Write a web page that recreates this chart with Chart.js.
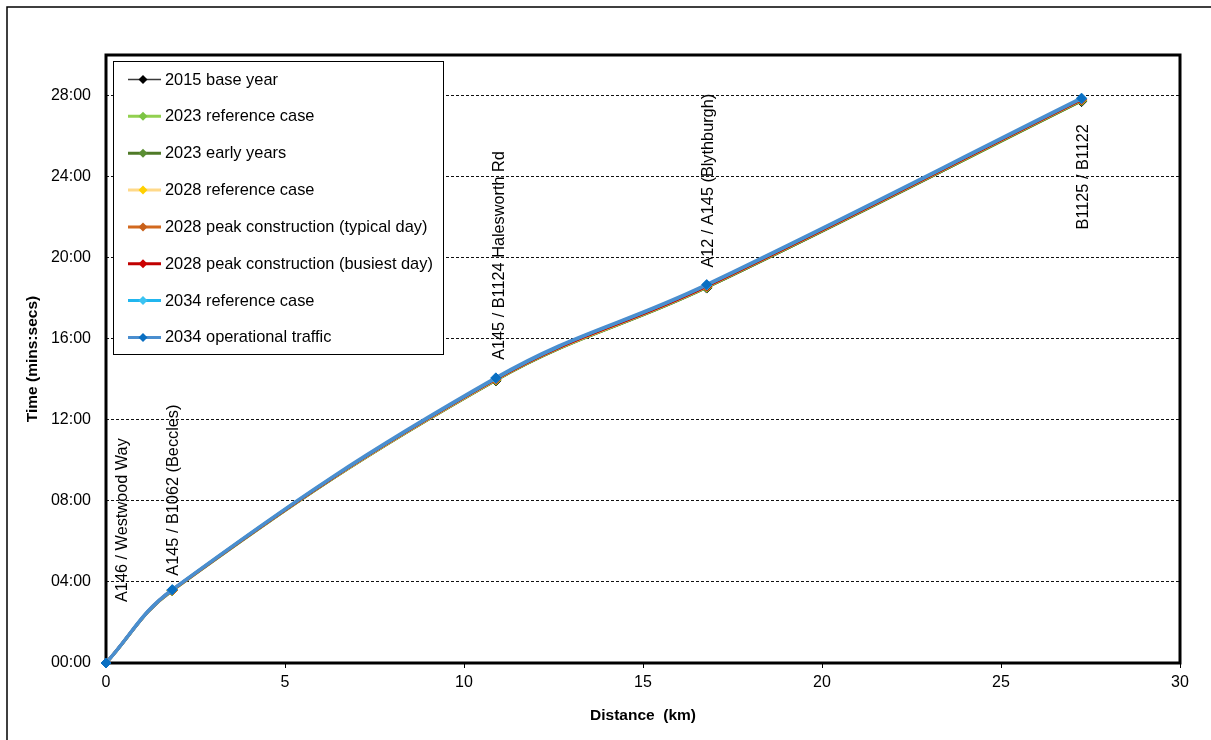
<!DOCTYPE html>
<html>
<head>
<meta charset="utf-8">
<script src="https://cdn.jsdelivr.net/npm/chart.js@4.4.1/dist/chart.umd.min.js"></script>
<style>
html,body{margin:0;padding:0;background:#fff;}
canvas{display:block;}
</style>
</head>
<body>
<canvas id="c" width="1211" height="740"></canvas>
<script>
// ---- data ----
const distanceKm = [0, 1.85, 10.89, 16.78, 27.25];
const junctionLabels = ["A146 / Westwood Way", "A145 / B1062 (Beccles)", "A145 / B1124 Halesworth Rd", "A12 / A145 (Blythburgh)", "B1125 / B1122"];
const seriesNames = ["2015 base year", "2023 reference case", "2023 early years", "2028 reference case",
  "2028 peak construction (typical day)", "2028 peak construction (busiest day)", "2034 reference case", "2034 operational traffic"];
// journey time in minutes
const base2015      = [0, 3.57, 13.92, 18.50, 27.70];
const ref2023       = [0, 3.58, 13.95, 18.53, 27.74];
const early2023     = [0, 3.58, 13.96, 18.54, 27.75];
const ref2028       = [0, 3.59, 13.98, 18.57, 27.78];
const peakTyp2028   = [0, 3.60, 14.00, 18.59, 27.80];
const peakBusy2028  = [0, 3.60, 14.01, 18.60, 27.81];
const ref2034       = [0, 3.61, 14.04, 18.64, 27.84];
const oper2034      = [0, 3.62, 14.07, 18.67, 27.87];
const seriesValues = [base2015, ref2023, early2023, ref2028, peakTyp2028, peakBusy2028, ref2034, oper2034];

// ---- styles ----
const lineColors   = ['#3a3a3a', '#92D050', '#4F7A28', '#FFD98A', '#D2691E', '#C00000', '#21B6EF', '#4A8ECF'];
const markerColors = ['#000000', '#7CC444', '#5B8E33', '#FFD000', '#C8601A', '#CC0000', '#3BC3F2', '#0A6FC2'];
const lineWidths   = [1.5, 3, 3, 3, 3, 3, 3, 3.5];
// label placement: dx from point, gap above (positive) or below (negative)
const labelPlacement = [
  {dx: 17, gap: 61}, {dx: 1, gap: 14}, {dx: 4, gap: 18}, {dx: 1.5, gap: 17}, {dx: 1.5, gap: -26}
];
const FONT = "'Liberation Sans', Arial, sans-serif";

function fmtTime(v) {
  const m = Math.floor(v + 1e-9);
  const s = Math.round((v - m) * 60);
  return String(m).padStart(2, '0') + ':' + String(s).padStart(2, '0');
}

const framePlugin = {
  id: 'frames',
  beforeDraw(chart) {
    const ctx = chart.ctx;
    ctx.save();
    ctx.strokeStyle = '#000';
    ctx.lineWidth = 1.5;
    ctx.beginPath();
    ctx.moveTo(7, chart.height);
    ctx.lineTo(7, 7);
    ctx.lineTo(chart.width, 7);
    ctx.stroke();
    ctx.restore();
  },
  beforeDatasetsDraw(chart) {
    const ctx = chart.ctx;
    const a = chart.chartArea;
    ctx.save();
    ctx.strokeStyle = '#000';
    ctx.lineWidth = 3;
    ctx.strokeRect(a.left, a.top, a.right - a.left, a.bottom - a.top);
    ctx.restore();
  },
  afterDatasetsDraw(chart) {
    const ctx = chart.ctx;
    const xs = chart.scales.x, ys = chart.scales.y;
    // junction labels
    ctx.save();
    ctx.fillStyle = '#000';
    ctx.font = '16.3px ' + FONT;
    ctx.textBaseline = 'middle';
    junctionLabels.forEach((t, i) => {
      const px = xs.getPixelForValue(distanceKm[i]);
      const py = ys.getPixelForValue(oper2034[i]);
      const p = labelPlacement[i];
      ctx.save();
      ctx.translate(px + p.dx, py - p.gap);
      ctx.textAlign = p.gap >= 0 ? 'left' : 'right';
      ctx.rotate(-Math.PI / 2);
      ctx.fillText(t, 0, 0);
      ctx.restore();
    });
    ctx.restore();

    // legend
    const a = chart.chartArea;
    const bx = a.left + 7, by = a.top + 6, bw = 330, bh = 293;
    ctx.save();
    ctx.fillStyle = '#fff';
    ctx.fillRect(bx, by, bw, bh);
    ctx.strokeStyle = '#000';
    ctx.lineWidth = 1;
    ctx.strokeRect(bx + 0.5, by + 0.5, bw, bh);
    ctx.font = '16.4px ' + FONT;
    ctx.textBaseline = 'middle';
    ctx.textAlign = 'left';
    seriesNames.forEach((name, i) => {
      const cy = by + 18.5 + i * 36.85;
      ctx.strokeStyle = lineColors[i];
      ctx.lineWidth = lineWidths[i] === 3.5 ? 3 : lineWidths[i];
      ctx.beginPath();
      ctx.moveTo(bx + 15, cy);
      ctx.lineTo(bx + 48, cy);
      ctx.stroke();
      ctx.fillStyle = markerColors[i];
      ctx.beginPath();
      ctx.moveTo(bx + 30, cy - 4.5);
      ctx.lineTo(bx + 34.5, cy);
      ctx.lineTo(bx + 30, cy + 4.5);
      ctx.lineTo(bx + 25.5, cy);
      ctx.closePath();
      ctx.fill();
      ctx.fillStyle = '#000';
      ctx.fillText(name, bx + 52, cy + 0.5);
    });
    ctx.restore();
  },
  afterDraw(chart) {
    const ctx = chart.ctx;
    const a = chart.chartArea;
    ctx.save();
    ctx.fillStyle = '#000';
    ctx.font = 'bold 15.5px ' + FONT;
    ctx.textAlign = 'center';
    ctx.textBaseline = 'middle';
    ctx.fillText('Distance  (km)', (a.left + a.right) / 2, 716);
    ctx.translate(33, (a.top + a.bottom) / 2);
    ctx.rotate(-Math.PI / 2);
    ctx.fillText('Time (mins:secs)', 0, 0);
    ctx.restore();
  }
};

const datasets = seriesNames.map((name, i) => ({
  label: name,
  data: distanceKm.map((d, j) => ({x: d, y: seriesValues[i][j]})),
  borderColor: lineColors[i],
  backgroundColor: markerColors[i],
  pointBackgroundColor: markerColors[i],
  pointBorderColor: markerColors[i],
  pointStyle: 'rectRot',
  pointRadius: 5,
  pointBorderWidth: 1,
  borderWidth: lineWidths[i],
  tension: 0.4,
  fill: false,
  clip: false,
  order: -i
}));

new Chart(document.getElementById('c'), {
  type: 'line',
  data: {datasets},
  options: {
    responsive: false,
    animation: false,
    events: [],
    layout: {padding: {top: 55, right: 31, left: 0, bottom: 0}},
    plugins: {legend: {display: false}, tooltip: {enabled: false}, title: {display: false}},
    scales: {
      x: {
        type: 'linear', min: 0, max: 30,
        ticks: {stepSize: 5, color: '#000', font: {size: 16, family: FONT}, padding: 5, maxRotation: 0},
        grid: {drawOnChartArea: false, drawTicks: true, tickLength: 5, tickColor: '#000', tickWidth: 1},
        border: {display: false},
        afterFit(s) { s.height = 77; }
      },
      y: {
        type: 'linear', min: 0, max: 30,
        ticks: {stepSize: 4, includeBounds: false, color: '#000', font: {size: 16, family: FONT}, padding: 15,
          callback: (v) => fmtTime(v)},
        grid: {color: (c) => (c.tick && c.tick.value === 0) ? 'rgba(0,0,0,0)' : '#111', lineWidth: 1, drawTicks: false},
        border: {display: false, dash: [3, 2]},
        afterFit(s) { s.width = 106; }
      }
    }
  },
  plugins: [framePlugin]
});
</script>
</body>
</html>
